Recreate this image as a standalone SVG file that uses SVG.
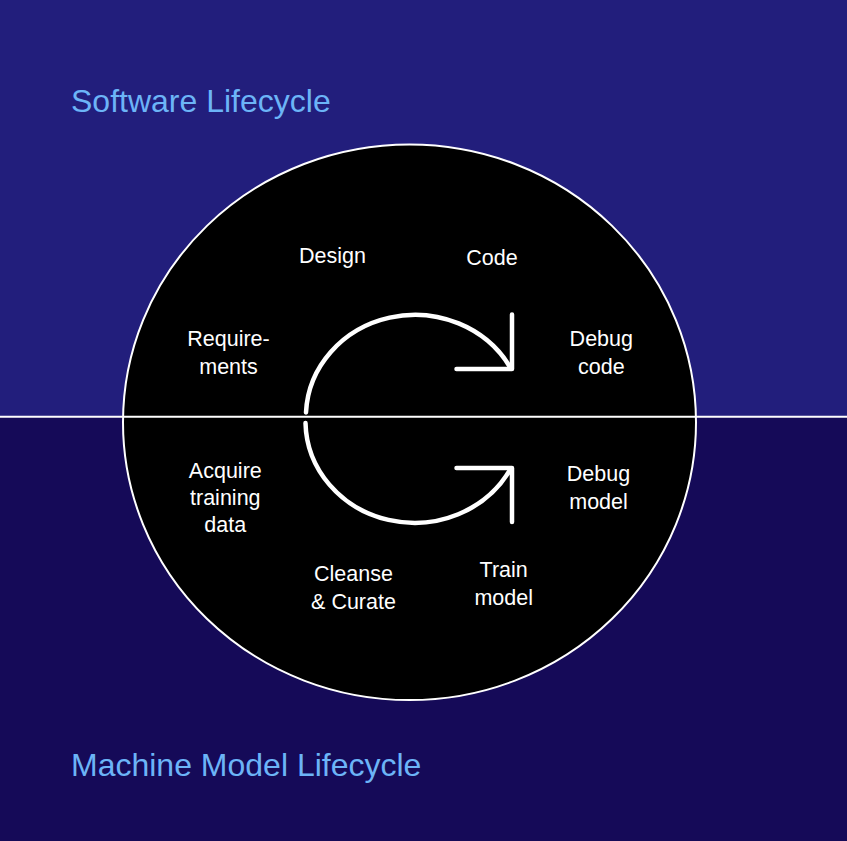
<svg xmlns="http://www.w3.org/2000/svg" width="847" height="841" viewBox="0 0 847 841">
  <style>
    .title { font-family: "Liberation Sans", Arial, sans-serif; font-size: 32px; fill: #6cb4f7; }
    .lbl { font-family: "Liberation Sans", Arial, sans-serif; font-size: 21.5px; fill: #ffffff; text-anchor: middle; }
    .arrow { fill: none; stroke: #ffffff; stroke-width: 4.5; stroke-linecap: round; stroke-linejoin: round; }
  </style>
  <g id="background">
    <rect x="0" y="0" width="847" height="417" fill="#221e7c"/>
    <rect x="0" y="417" width="847" height="424" fill="#150a58"/>
  </g>
  <g id="circle">
    <ellipse cx="409.5" cy="422.3" rx="286.5" ry="277.8" fill="#000000" stroke="#ffffff" stroke-width="2"/>
  </g>
  <g id="divider">
    <line x1="0" y1="416.7" x2="847" y2="416.7" stroke="#ffffff" stroke-width="2"/>
  </g>
  <g id="titles">
    <text id="software-title" class="title" x="71" y="112">Software Lifecycle</text>
    <text id="ml-title" class="title" x="71" y="776">Machine Model Lifecycle</text>
  </g>
  <g id="connectors">
    <path class="arrow" d="M 306 412.5 A 109 102 0 0 1 510 367"/>
    <path class="arrow" d="M 512 314.5 L 512 369 L 456.5 369"/>
    <path class="arrow" d="M 305.5 423 A 109 102 0 0 0 510 470"/>
    <path class="arrow" d="M 512 522 L 512 468 L 456.5 468"/>
  </g>
  <g id="node-design"><text class="lbl" x="332.5" y="262.7">Design</text></g>
  <g id="node-code"><text class="lbl" x="492" y="265">Code</text></g>
  <g id="node-requirements"><text class="lbl" x="228.5" y="346">Require-<tspan x="228.5" y="374">ments</tspan></text></g>
  <g id="node-debug-code"><text class="lbl" x="601.3" y="346">Debug<tspan x="601.3" y="373.5">code</tspan></text></g>
  <g id="node-acquire"><text class="lbl" x="225.3" y="477.5">Acquire<tspan x="225.3" y="505">training</tspan><tspan x="225.3" y="532">data</tspan></text></g>
  <g id="node-debug-model"><text class="lbl" x="598.5" y="481">Debug<tspan x="598.5" y="508.5">model</tspan></text></g>
  <g id="node-cleanse"><text class="lbl" x="353.5" y="580.5">Cleanse<tspan x="353.5" y="608.5">&amp; Curate</tspan></text></g>
  <g id="node-train"><text class="lbl" x="503.7" y="577">Train<tspan x="503.7" y="604.5">model</tspan></text></g>
</svg>
